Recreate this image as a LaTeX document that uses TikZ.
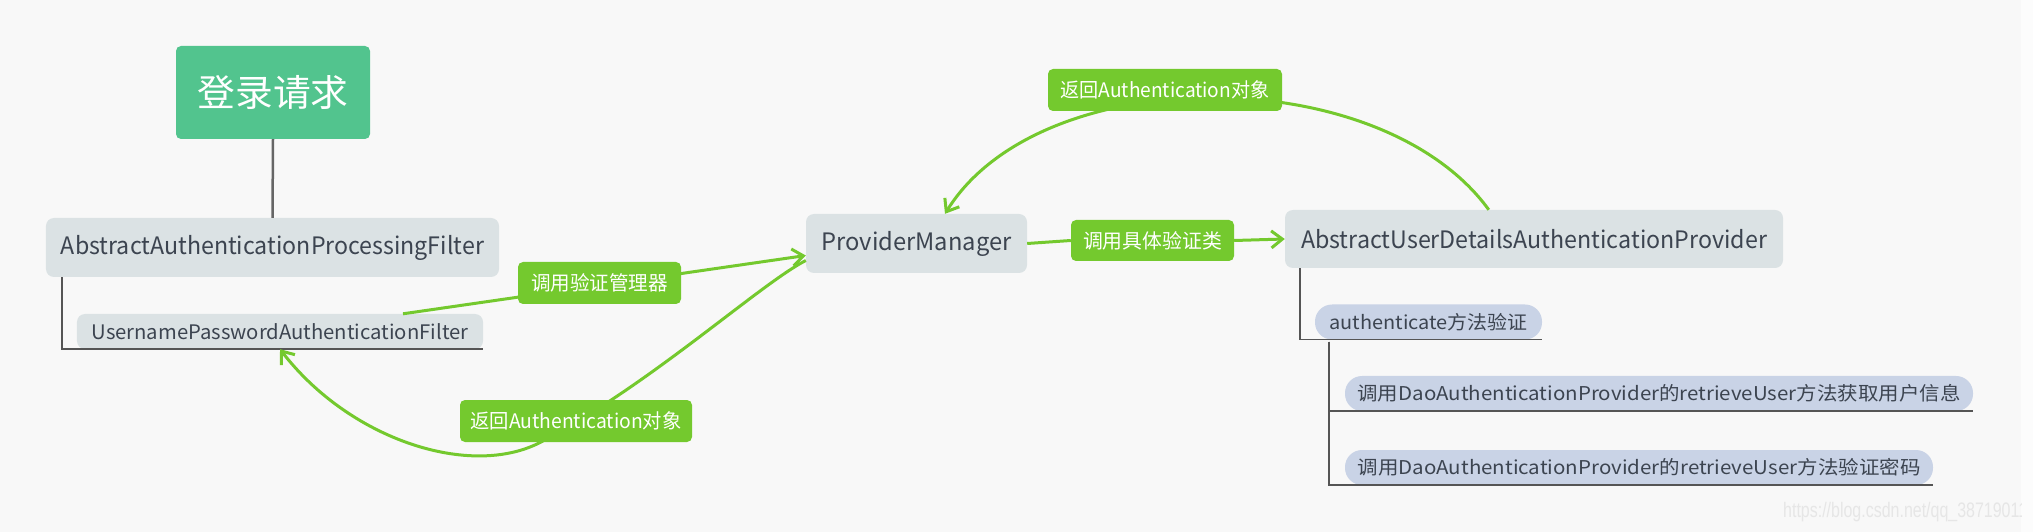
\documentclass[tikz,border=0pt]{standalone}
\usepackage{fontspec}
\setmainfont{Noto Sans CJK SC}
\newfontfamily\wmfont{Liberation Sans}
\usetikzlibrary{arrows.meta,calc}
\definecolor{bgc}{HTML}{F8F8F8}
\definecolor{reqc}{HTML}{52C48E}
\definecolor{boxc}{HTML}{DBE2E4}
\definecolor{pillc}{HTML}{C9D3E6}
\definecolor{grnc}{HTML}{74C92E}
\definecolor{txtc}{HTML}{3C4450}
\definecolor{treec}{HTML}{555555}
\definecolor{wmc}{HTML}{E6E6E6}
\newcommand{\fw}[3]{\resizebox{#1bp}{\height}{\fontsize{#2bp}{#2bp}\selectfont #3}}
\begin{document}
\begin{tikzpicture}[x=1bp,y=-1bp,
  reqbox/.style={rounded corners=5bp, inner sep=0pt, fill=reqc, text=white},
  graybox/.style={rounded corners=8bp, inner sep=0pt, fill=boxc, text=txtc},
  pill/.style={rounded corners=17bp, inner sep=0pt, fill=pillc, text=txtc},
  lbl/.style={rounded corners=5bp, inner sep=0pt, fill=grnc, text=white, minimum height=42bp},
  treeline/.style={draw=treec, line width=1.5bp},
  stem/.style={draw=treec!90, line width=2.5bp},
  gline/.style={draw=grnc, line width=3bp},
  garrow/.style={gline, -{Straight Barb[length=11bp,width=17bp,line width=3bp]}}
]
\fill[bgc] (0,0) rectangle (2021,532);
\fill[white!60!bgc] (2021,0) rectangle (2033,532);
\useasboundingbox (0,0) rectangle (2033,532);

% watermark
\begin{scope}
\clip (0,0) rectangle (2021,532);
\node[anchor=west, inner sep=0pt, text=wmc] (wm) at (1783,512) {\wmfont\fw{244}{21}{https://blog.csdn.net/qq\_38719011}};
\end{scope}

% nodes
\node[reqbox, minimum width=194bp, minimum height=93bp] (req) at (273,92.5) {\fw{151}{37}{登录请求}};
\node[graybox, minimum width=453bp, minimum height=59bp] (aapf) at (272.5,247.5) {\fw{423}{24}{AbstractAuthenticationProcessingFilter}};
\node[graybox, minimum width=406bp, minimum height=35bp] (upaf) at (280,331.5) {\fw{377}{20}{UsernamePasswordAuthenticationFilter}};
\node[graybox, minimum width=221bp, minimum height=59bp] (pm) at (916.5,243.5) {\fw{190}{24}{ProviderManager}};
\node[graybox, minimum width=498bp, minimum height=58bp] (audap) at (1534,239) {\fw{466}{24}{AbstractUserDetailsAuthenticationProvider}};
\node[pill, minimum width=227bp, minimum height=35bp] (auth) at (1428.5,322) {\fw{198}{19}{authenticate方法验证}};
\node[pill, minimum width=628bp, minimum height=35bp] (dao1) at (1659,393.5) {\fw{603}{19}{调用DaoAuthenticationProvider的retrieveUser方法获取用户信息}};
\node[pill, minimum width=588bp, minimum height=35bp] (dao2) at (1639,467.5) {\fw{563}{19}{调用DaoAuthenticationProvider的retrieveUser方法验证密码}};

% tree lines
\draw[stem] (req.south) -- (aapf.north);
\draw[treeline] ($(aapf.south west)+(16,0)$) |- (upaf.south east);
\draw[treeline] ($(audap.south west)+(15,0)$) |- (auth.south east);
\draw[treeline] ($(auth.south west)+(14,2)$) |- (dao1.south east);
\draw[treeline] ($(auth.south west)+(14,2)$) |- (dao2.south east);

% green connectors
\coordinate (c1s) at ($(upaf.north)+(123,0)$);
\coordinate (c1e) at ($(pm.west)+(0,12)$);
\draw[garrow] (c1s) -- (c1e);

\coordinate (c2s) at ($(pm.west)+(0,17)$);
\coordinate (c2m) at (541,442);
\draw[garrow] (c2s) .. controls (760,284) and (650,385) .. (c2m)
  .. controls (471,479) and (350,440) .. (upaf.south);

\coordinate (c3s) at ($(audap.north west)+(204,0)$);
\coordinate (c3e) at ($(pm.north)+(28.5,0)$);
\draw[garrow] (c3s) .. controls (1380,60) and (1040,60) .. (c3e);

% labels
\node[lbl, minimum width=163bp] (L1) at (599.5,283) {\fw{137}{20}{调用验证管理器}};
\node[lbl, minimum width=232bp] (L2) at (576,421) {\fw{211}{20}{返回Authentication对象}};
\node[lbl, minimum width=234bp] (L3) at (1165,90) {\fw{209}{20}{返回Authentication对象}};
\node[lbl, minimum width=163bp, minimum height=41bp] (L4) at (1152.5,240.5) {\fw{139}{20}{调用具体验证类}};

\draw[gline] (pm.east) -- (L4.west);
\draw[garrow] (L4.east) -- (audap.west);
\end{tikzpicture}
\end{document}
